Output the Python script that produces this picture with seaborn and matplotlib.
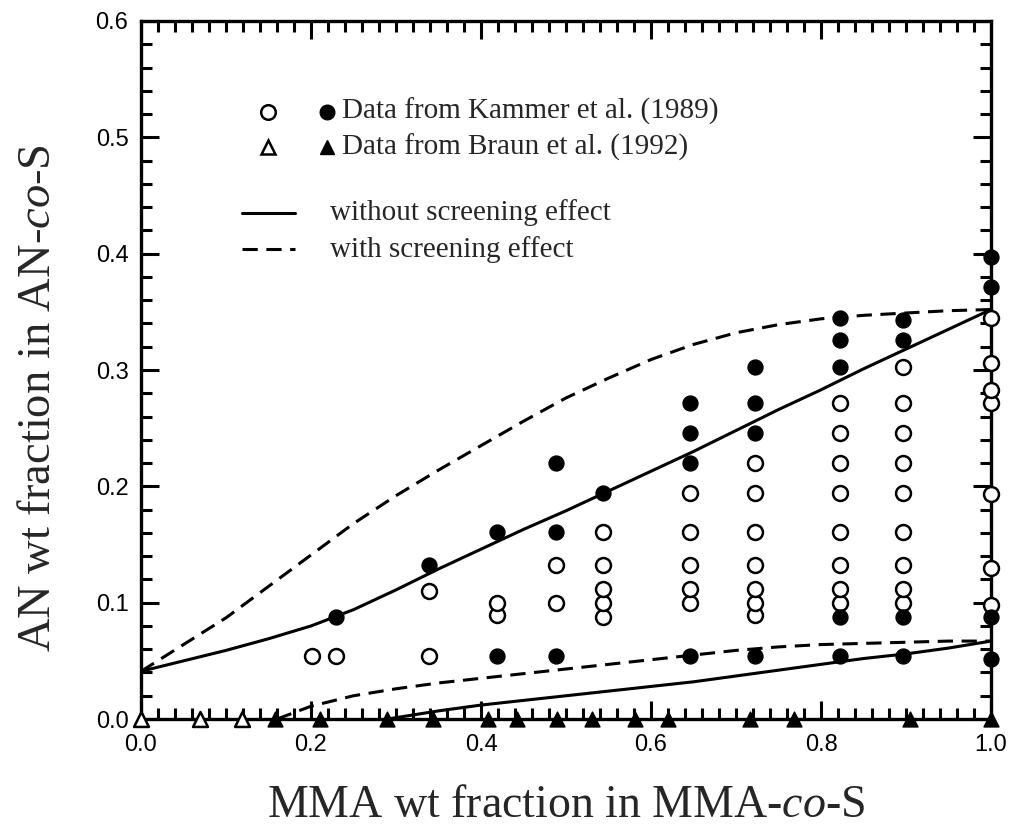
import numpy as np
import pandas as pd
import matplotlib
matplotlib.use("Agg")
import matplotlib.pyplot as plt
import seaborn as sns
from matplotlib.ticker import MultipleLocator, FormatStrFormatter

# ---------------- data ----------------
kammer_open_x = [0.201, 0.230, 0.339, 0.339, 0.419, 0.419, 0.488, 0.488,
                 0.544, 0.544, 0.544, 0.544, 0.544,
                 0.646, 0.646, 0.646, 0.646, 0.646,
                 0.722, 0.722, 0.722, 0.722, 0.722, 0.722, 0.722,
                 0.822, 0.822, 0.822, 0.822, 0.822, 0.822, 0.822, 0.822,
                 0.897, 0.897, 0.897, 0.897, 0.897, 0.897, 0.897, 0.897, 0.897,
                 1.0, 1.0, 1.0, 1.0, 1.0, 1.0, 1.0]
kammer_open_y = [0.054, 0.054, 0.054, 0.110, 0.089, 0.100, 0.100, 0.132,
                 0.088, 0.100, 0.112, 0.132, 0.161,
                 0.100, 0.112, 0.132, 0.161, 0.194,
                 0.089, 0.100, 0.112, 0.132, 0.161, 0.194, 0.220,
                 0.100, 0.112, 0.132, 0.161, 0.194, 0.220, 0.246, 0.272,
                 0.100, 0.112, 0.132, 0.161, 0.194, 0.220, 0.246, 0.272, 0.303,
                 0.098, 0.130, 0.193, 0.272, 0.283, 0.306, 0.345]

kammer_filled_x = [0.230, 0.339, 0.419, 0.419, 0.488, 0.488, 0.488, 0.544,
                   0.646, 0.646, 0.646, 0.646,
                   0.722, 0.722, 0.722, 0.722,
                   0.822, 0.822, 0.822, 0.822, 0.822,
                   0.897, 0.897, 0.897, 0.897,
                   1.0, 1.0, 1.0, 1.0]
kammer_filled_y = [0.088, 0.132, 0.054, 0.161, 0.054, 0.161, 0.220, 0.194,
                   0.054, 0.220, 0.246, 0.272,
                   0.054, 0.246, 0.272, 0.303,
                   0.054, 0.088, 0.303, 0.326, 0.345,
                   0.054, 0.088, 0.326, 0.343,
                   0.052, 0.088, 0.371, 0.397]

braun_open_x = [0.0, 0.069, 0.119]
braun_open_y = [0.0, 0.0, 0.0]
braun_filled_x = [0.158, 0.211, 0.289, 0.343, 0.408, 0.442, 0.489, 0.530,
                  0.581, 0.620, 0.717, 0.768, 0.905, 1.0]
braun_filled_y = [0.0] * len(braun_filled_x)

# model curves
upper_solid_x = [0.00, 0.05, 0.10, 0.15, 0.20, 0.25, 0.30, 0.35, 0.40, 0.45, 0.50,
                 0.55, 0.60, 0.65, 0.70, 0.75, 0.80, 0.85, 0.90, 0.95, 1.00]
upper_solid_y = [0.041, 0.050, 0.059, 0.069, 0.080, 0.094, 0.111, 0.129, 0.146, 0.163, 0.179,
                 0.196, 0.213, 0.230, 0.248, 0.266, 0.283, 0.301, 0.318, 0.335, 0.352]

upper_dash_x = [0.00, 0.05, 0.10, 0.15, 0.20, 0.25, 0.30, 0.35, 0.40, 0.45, 0.50,
                0.55, 0.60, 0.65, 0.70, 0.75, 0.80, 0.85, 0.90, 0.95, 1.00]
upper_dash_y = [0.041, 0.064, 0.087, 0.114, 0.141, 0.168, 0.192, 0.214, 0.235, 0.256, 0.276,
                0.293, 0.309, 0.322, 0.332, 0.339, 0.344, 0.347, 0.349, 0.351, 0.352]

lower_dash_x = [0.16, 0.20, 0.25, 0.30, 0.35, 0.40, 0.45, 0.50, 0.55, 0.60, 0.65,
                0.70, 0.75, 0.80, 0.85, 0.90, 0.95, 1.00]
lower_dash_y = [0.000, 0.011, 0.020, 0.026, 0.031, 0.035, 0.039, 0.043, 0.047, 0.051, 0.055,
                0.059, 0.062, 0.064, 0.065, 0.066, 0.067, 0.067]

lower_solid_x = [0.29, 0.35, 0.40, 0.45, 0.50, 0.55, 0.60, 0.65, 0.70, 0.75, 0.80,
                 0.85, 0.90, 0.95, 1.00]
lower_solid_y = [0.000, 0.007, 0.012, 0.016, 0.020, 0.024, 0.028, 0.032, 0.037, 0.042, 0.047,
                 0.052, 0.056, 0.061, 0.067]

x_ticks = [0.0, 0.2, 0.4, 0.6, 0.8, 1.0]
y_ticks = [0.0, 0.1, 0.2, 0.3, 0.4, 0.5, 0.6]

legend_labels = ["Data from Kammer et al. (1989)",
                 "Data from Braun et al. (1992)",
                 "without screening effect",
                 "with screening effect"]

# ---------------- style ----------------
sns.set_style("ticks")
plt.rcParams["font.family"] = ["Liberation Sans", "DejaVu Sans"]
plt.rcParams["mathtext.fontset"] = "custom"
plt.rcParams["mathtext.rm"] = "Liberation Serif"
plt.rcParams["mathtext.it"] = "Liberation Serif:italic"

fig = plt.figure(figsize=(10.18, 8.30), dpi=100)
ax = fig.add_axes([0.1385, 0.1337, 0.835, 0.841])

LW = 2.2
DASH = (0, (5, 2.8))

sns.lineplot(x=upper_solid_x, y=upper_solid_y, color="black", lw=LW, sort=False,
             estimator=None, ax=ax, zorder=2)
sns.lineplot(x=lower_solid_x, y=lower_solid_y, color="black", lw=LW, sort=False,
             estimator=None, ax=ax, zorder=2)
sns.lineplot(x=upper_dash_x, y=upper_dash_y, color="black", lw=LW, linestyle=DASH,
             sort=False, estimator=None, ax=ax, zorder=2)
sns.lineplot(x=lower_dash_x, y=lower_dash_y, color="black", lw=LW, linestyle=DASH,
             sort=False, estimator=None, ax=ax, zorder=2)

MS = 115
sns.scatterplot(x=kammer_open_x, y=kammer_open_y, marker="o", s=MS, facecolor="white",
                edgecolor="black", linewidth=1.8, ax=ax, zorder=3, clip_on=False)
sns.scatterplot(x=kammer_filled_x, y=kammer_filled_y, marker="o", s=MS, color="black",
                edgecolor="black", linewidth=1.0, ax=ax, zorder=3, clip_on=False)
sns.scatterplot(x=braun_open_x, y=braun_open_y, marker="^", s=MS, facecolor="white",
                edgecolor="black", linewidth=1.8, ax=ax, zorder=4, clip_on=False)
sns.scatterplot(x=braun_filled_x, y=braun_filled_y, marker="^", s=MS, color="black",
                edgecolor="black", linewidth=1.0, ax=ax, zorder=4, clip_on=False)

ax.set_xlim(0, 1.0)
ax.set_ylim(0, 0.6)
ax.set_xticks(x_ticks)
ax.set_yticks(y_ticks)
ax.xaxis.set_minor_locator(MultipleLocator(0.02))
ax.yaxis.set_minor_locator(MultipleLocator(0.02))
ax.xaxis.set_major_formatter(FormatStrFormatter("%.1f"))
ax.yaxis.set_major_formatter(FormatStrFormatter("%.1f"))
ax.tick_params(which="both", direction="in", top=True, right=True, width=2.2,
               colors="black", labelsize=17)
ax.tick_params(which="major", length=13)
ax.tick_params(which="minor", length=8)
ax.tick_params(axis="x", which="major", pad=11)
ax.tick_params(axis="y", which="major", pad=9)
for sp in ax.spines.values():
    sp.set_linewidth(2.4)
    sp.set_color("black")

ax.set_xlabel(r"MMA wt fraction in MMA-$\it{co}$-S", fontsize=33,
              family="Liberation Serif", labelpad=20)
ax.set_ylabel(r"AN wt fraction in AN-$\it{co}$-S", fontsize=33.5,
              family="Liberation Serif")
ax.yaxis.set_label_coords(-0.095, 0.46)

# ---------------- legend (manual, as in the original) ----------------
tr = ax.transAxes
ax.plot([0.149], [0.870], "o", ms=10.5, mfc="white", mec="black", mew=1.8, transform=tr)
ax.plot([0.219], [0.870], "o", ms=10.5, mfc="black", mec="black", transform=tr)
ax.plot([0.149], [0.819], "^", ms=10.5, mfc="white", mec="black", mew=1.8, transform=tr)
ax.plot([0.219], [0.819], "^", ms=10.5, mfc="black", mec="black", transform=tr)
ax.plot([0.119, 0.181], [0.725, 0.725], color="black", lw=LW, transform=tr)
ax.plot([0.119, 0.181], [0.673, 0.673], color="black", lw=LW, linestyle=DASH, transform=tr)
ax.text(0.237, 0.870, legend_labels[0], transform=tr, va="center", ha="left",
        fontsize=21, family="Liberation Serif")
ax.text(0.237, 0.819, legend_labels[1], transform=tr, va="center", ha="left",
        fontsize=21, family="Liberation Serif")
ax.text(0.222, 0.725, legend_labels[2], transform=tr, va="center", ha="left",
        fontsize=21, family="Liberation Serif")
ax.text(0.222, 0.673, legend_labels[3], transform=tr, va="center", ha="left",
        fontsize=21, family="Liberation Serif")

fig.savefig("out.png", dpi=100)
